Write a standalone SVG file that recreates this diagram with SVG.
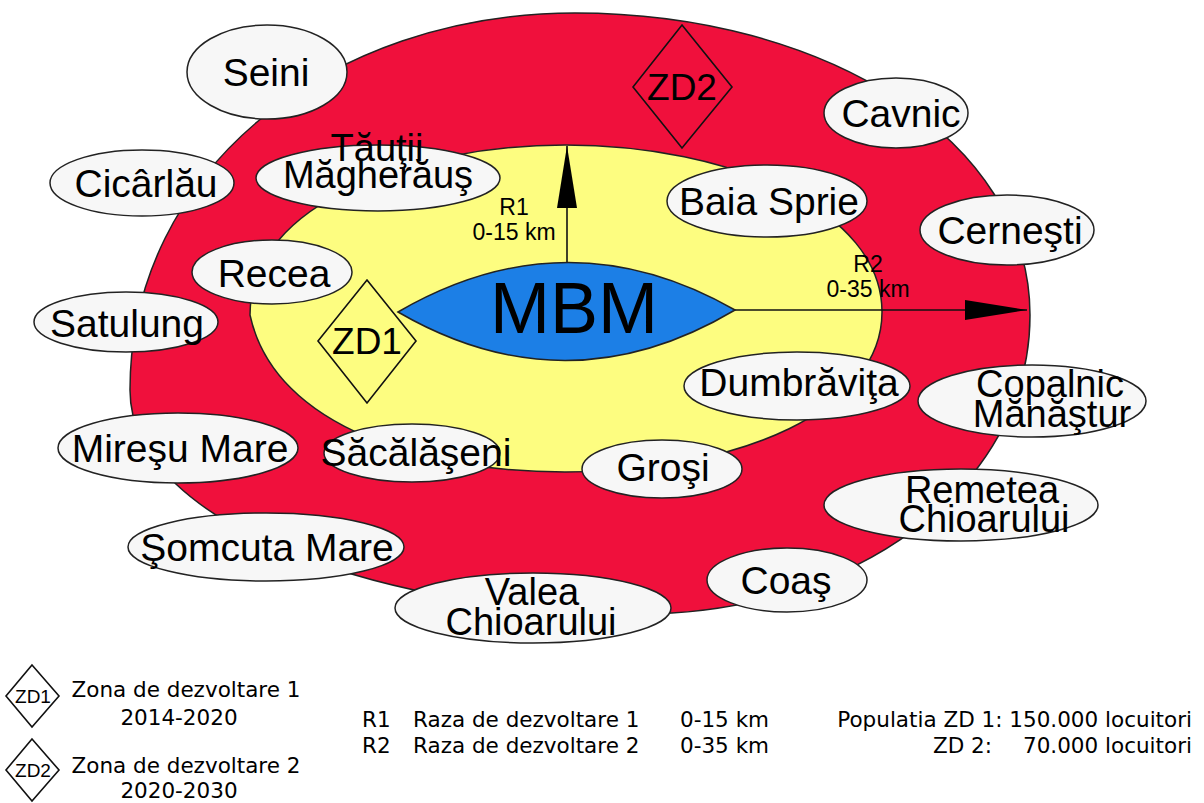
<svg xmlns="http://www.w3.org/2000/svg" width="1204" height="803" viewBox="0 0 1204 803">
<style>
  text { font-family: "Liberation Sans", Arial, sans-serif; fill: #000; }
  .node ellipse { fill: #f7f7f7; stroke: #222; stroke-width: 1.5; }
  .nt { font-size: 39px; text-anchor: middle; }
  .nt2 { font-size: 38px; text-anchor: middle; }
  .zd { fill: none; stroke: #111; stroke-width: 1.6; }
  .zt { font-size: 37px; text-anchor: middle; }
  .rl { font-size: 23px; text-anchor: middle; }
  .lg { font-family: "DejaVu Sans", "Liberation Sans", sans-serif; font-size: 21.5px; }
  .conn { stroke: #111; stroke-width: 1.6; fill: none; }
</style>
<defs>
  <marker id="ah" viewBox="0 0 62 20" refX="62" refY="10" markerWidth="62" markerHeight="20" markerUnits="userSpaceOnUse" orient="auto">
    <path d="M0,0 L62,10 L0,20 Z" fill="#000"/>
  </marker>
</defs>
<rect width="1204" height="803" fill="#fff"/>

<g id="zone2">
  <path d="M575,13 C825,13 1030,140 1030,315 C1030,490 850,614 640,614 C400,614 130,530 130,390 C130,170 330,13 575,13 Z" fill="#f0103c" stroke="#222" stroke-width="1.5"/>
</g>
<g id="zone1">
  <path d="M250,315 C250,200 420,145 565,145 C730,145 882,210 882,312 C882,410 740,472 565,472 C430,472 275,430 250,315 Z" fill="#fdfd80" stroke="#222" stroke-width="1.5"/>
</g>

<g id="zd2">
  <polygon class="zd" points="682,25 732,87 682,148 633,87"/>
  <text class="zt" x="682" y="100">ZD2</text>
</g>
<g id="zd1">
  <polygon class="zd" points="367,280 416,341 367,403 318,341"/>
  <text class="zt" x="367" y="354">ZD1</text>
</g>

<g id="connectors">
  <line class="conn" x1="567" y1="264" x2="567" y2="146" marker-end="url(#ah)"/>
  <line class="conn" x1="735" y1="310" x2="1027" y2="310" marker-end="url(#ah)"/>
</g>

<g id="mbm">
  <path d="M398,312 Q567,214 735,310 Q567,410 398,312 Z" fill="#1c7fe6" stroke="#222" stroke-width="1.5"/>
  <text x="574" y="333" style="font-size:72px;text-anchor:middle">MBM</text>
</g>

<g id="r1label">
  <text class="rl" x="514" y="215">R1</text>
  <text class="rl" x="514" y="240">0-15 km</text>
</g>
<g id="r2label">
  <text class="rl" x="868" y="272">R2</text>
  <text class="rl" x="868" y="297">0-35 km</text>
</g>

<g id="seini" class="node"><ellipse cx="267" cy="72" rx="80" ry="47"/><text class="nt" x="266" y="86">Seini</text></g>
<g id="cicarlau" class="node"><ellipse cx="142" cy="183" rx="92" ry="33"/><text class="nt" x="146" y="197">Cicârlău</text></g>
<g id="tautii" class="node"><ellipse cx="378" cy="178" rx="122" ry="33"/><text class="nt2" x="377" y="161">Tăuţii</text><text class="nt2" x="378" y="188">Măgherăuş</text></g>
<g id="cavnic" class="node"><ellipse cx="896" cy="113" rx="72" ry="35"/><text class="nt" x="901" y="127">Cavnic</text></g>
<g id="baiasprie" class="node"><ellipse cx="767" cy="201" rx="100" ry="36"/><text class="nt" x="769" y="215">Baia Sprie</text></g>
<g id="cernesti" class="node"><ellipse cx="1007" cy="230" rx="87" ry="35"/><text class="nt" x="1010" y="244">Cerneşti</text></g>
<g id="recea" class="node"><ellipse cx="272" cy="272" rx="80" ry="32"/><text class="nt" x="274" y="287">Recea</text></g>
<g id="satulung" class="node"><ellipse cx="126" cy="322" rx="92" ry="30"/><text class="nt" x="127" y="337">Satulung</text></g>
<g id="dumbravita" class="node"><ellipse cx="797" cy="386" rx="113" ry="34"/><text class="nt" x="799" y="396">Dumbrăviţa</text></g>
<g id="copalnic" class="node"><ellipse cx="1032" cy="401" rx="114" ry="36"/><text class="nt2" x="1050" y="397">Copalnic</text><text class="nt2" x="1052" y="427">Mănăştur</text></g>
<g id="miresu" class="node"><ellipse cx="178" cy="448" rx="120" ry="35"/><text class="nt" x="180" y="462">Mireşu Mare</text></g>
<g id="sacalaseni" class="node"><ellipse cx="412" cy="453" rx="88" ry="29"/><text class="nt" x="416" y="466">Săcălăşeni</text></g>
<g id="grosi" class="node"><ellipse cx="662" cy="469" rx="80" ry="29"/><text class="nt" x="663" y="481">Groşi</text></g>
<g id="remetea" class="node"><ellipse cx="961" cy="505" rx="137" ry="36"/><text class="nt2" x="982" y="503">Remetea</text><text class="nt2" x="984" y="532">Chioarului</text></g>
<g id="somcuta" class="node"><ellipse cx="266" cy="547" rx="138" ry="34"/><text class="nt" x="267" y="561">Şomcuta Mare</text></g>
<g id="coas" class="node"><ellipse cx="787" cy="580" rx="80" ry="32"/><text class="nt" x="786" y="594">Coaş</text></g>
<g id="valea" class="node"><ellipse cx="533" cy="608" rx="138" ry="35"/><text class="nt2" x="532" y="605">Valea</text><text class="nt2" x="531" y="635">Chioarului</text></g>

<g id="legend-zd1">
  <polygon class="zd" points="32,665 59,696 32,727 6,696"/>
  <text x="33" y="703" style="font-size:19px;text-anchor:middle">ZD1</text>
  <text class="lg" x="186" y="697" style="text-anchor:middle">Zona de dezvoltare 1</text>
  <text class="lg" x="179" y="725" style="text-anchor:middle">2014-2020</text>
</g>
<g id="legend-zd2">
  <polygon class="zd" points="32,739 59,770 32,801 6,770"/>
  <text x="33" y="777" style="font-size:19px;text-anchor:middle">ZD2</text>
  <text class="lg" x="186" y="773" style="text-anchor:middle">Zona de dezvoltare 2</text>
  <text class="lg" x="179" y="798" style="text-anchor:middle">2020-2030</text>
</g>
<g id="legend-r">
  <text class="lg" x="362" y="727">R1</text>
  <text class="lg" x="413" y="727">Raza de dezvoltare 1</text>
  <text class="lg" x="680" y="727">0-15 km</text>
  <text class="lg" x="362" y="753">R2</text>
  <text class="lg" x="413" y="753">Raza de dezvoltare 2</text>
  <text class="lg" x="680" y="753">0-35 km</text>
</g>
<g id="legend-pop">
  <text class="lg" x="1192" y="727" style="text-anchor:end">Populatia ZD 1: 150.000 locuitori</text>
  <text class="lg" x="933" y="753">ZD 2:</text>
  <text class="lg" x="1192" y="753" style="text-anchor:end">70.000 locuitori</text>
</g>
</svg>
